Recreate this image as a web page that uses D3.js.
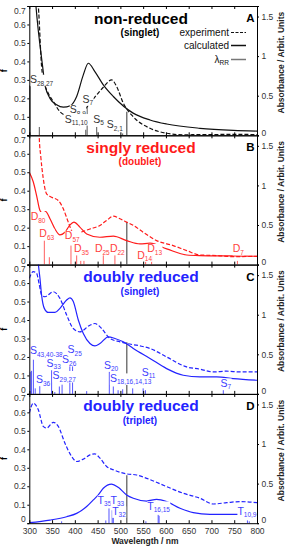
<!DOCTYPE html>
<html>
<head>
<meta charset="utf-8">
<script src="https://cdn.jsdelivr.net/npm/d3@7"></script>
<style>
  body { margin: 0; background: #fff; }
  svg { display: block; font-family: "Liberation Sans", Arial, sans-serif; }
</style>
</head>
<body>
<svg id="chart" width="287" height="550"></svg>
<script>

// ---- data (curves read against the f axis, wavelength in nm) ----
const wavelengthTicks = [300, 350, 400, 450, 500, 550, 600, 650, 700, 750, 800];
const fTicks = [0, 0.1, 0.2, 0.3, 0.4, 0.5, 0.6, 0.7];
const absTicks = [0, 0.5, 1, 1.5];
const lambdaRR = 514;

const titles = ["non-reduced", "singly reduced", "doubly reduced", "doubly reduced"];
const subtitles = ["(singlet)", "(doublet)", "(singlet)", "(triplet)"];
const letters = ["A", "B", "C", "D"];

const expA = [[318,0.75],[319.8,0.70],[327,0.372],[333,0.282],[341.7,0.228],[352.7,0.183],[367.3,0.128],[382,0.105],[396.6,0.098],[411,0.11],[427.4,0.155],[448,0.219],[462.5,0.26],[480.8,0.30],[491.8,0.264],[506.4,0.174],[528,0.101],[565,0.038],[601.6,0.011],[638,0.003],[700,0.004],[750,0.005],[800,0.004]];
const calcA = [[313,0.75],[314.6,0.70],[329.3,0.372],[334.4,0.273],[345.4,0.2],[360,0.165],[374.7,0.152],[390,0.16],[404,0.21],[418.6,0.327],[429.6,0.39],[444,0.345],[462.5,0.273],[484.5,0.21],[528,0.12],[565,0.083],[601.6,0.061],[674.8,0.038],[748,0.027],[800,0.023]];
const sticksA = [[300.8,0.27],[301.8,0.27],[322,0.045],[424,0.03],[427,0.155],[448,0.045],[505,0.01]];
const labelsA = [["S","28,27",301.3,0.282],["S","8,9",389,0.119],["S","7",417,0.176],["S","11,10",378,0.069],["S","5",440.5,0.069],["S","2,1",470,0.038]];
const rrA = 0.128;

const expB = [[321,0.75],[322,0.68],[325,0.59],[330.7,0.465],[338,0.383],[349,0.365],[363.7,0.347],[374.7,0.302],[385.6,0.23],[396.6,0.172],[411,0.175],[433,0.193],[455,0.212],[469.8,0.239],[484.5,0.262],[499,0.248],[513.7,0.23],[528.4,0.212],[550.3,0.175],[579.6,0.13],[616,0.103],[645.5,0.076],[674.8,0.052],[711.4,0.049],[748,0.043],[800,0.045]];
const calcB = [[300,0.50],[308.8,0.447],[316,0.374],[323.4,0.293],[330.7,0.275],[336,0.287],[345.4,0.248],[356.4,0.193],[367.3,0.161],[378.3,0.175],[389.3,0.215],[398,0.23],[411,0.203],[426,0.166],[455,0.148],[484.5,0.154],[513.7,0.13],[543,0.112],[565,0.116],[601.6,0.085],[645.5,0.052],[674.8,0.049],[748,0.047],[800,0.045]];
const sticksB = [[333,0.13],[344,0.04],[391.5,0.103],[404,0.06],[413,0.02],[420,0.02],[462.5,0.052],[488,0.058],[555.5,0.02],[568.6,0.06],[757,0.02]];
const labelsB = [["D","80",303,0.239],["D","63",322,0.148],["D","57",378,0.137],["D","35",398,0.066],["D","25",444,0.066],["D","22",477,0.066],["D","14",537,0.031],["D","13",559,0.066],["D","7",746.5,0.066]];
const rrB = 0.23;

const expC = [[300,0.626],[308.8,0.662],[316,0.653],[322,0.59],[327,0.535],[334.4,0.526],[352.7,0.553],[367.3,0.517],[382,0.427],[396.6,0.354],[411,0.336],[433.2,0.372],[444,0.381],[458.8,0.354],[477,0.3],[499,0.282],[513.7,0.273],[543,0.26],[565,0.246],[601.6,0.2],[645.5,0.146],[674.8,0.134],[704,0.119],[733.3,0.123],[762.6,0.119],[800,0.119]];
const calcC = [[318.5,0.75],[319.8,0.707],[323.4,0.626],[327,0.535],[333,0.463],[341.7,0.441],[356.4,0.441],[367.3,0.463],[382,0.508],[389.3,0.52],[396.6,0.5],[407.6,0.4],[418.6,0.327],[433.2,0.273],[444.2,0.26],[455.2,0.273],[473.5,0.309],[488,0.3],[506.4,0.282],[528.4,0.246],[565,0.192],[601.6,0.137],[638,0.101],[674.8,0.092],[711.4,0.092],[748,0.083],[800,0.074]];
const sticksC = [[302,0.12],[305,0.125],[309,0.185],[313,0.03],[323,0.047],[349,0.128],[356,0.01],[366,0.04],[372,0.05],[389,0.165],[395,0.21],[426,0.015],[475.7,0.12],[484.5,0.04],[495,0.02],[505,0.025],[527,0.03],[550,0.03],[555,0.02],[726,0.02]];
const labelsC = [["S","43,40-38",301.5,0.215],["S","36",314.6,0.058],["S","33",338,0.146],["S","29,27",351,0.078],["S","26",372,0.165],["S","25",384,0.219],["S","20",464,0.137],["S","18,16,14,13",477,0.065],["S","11",546.7,0.098],["S","7",720,0.038]];
const rrC = 0.28;

const expD = [[300,0.596],[308.8,0.65],[319.8,0.614],[330.7,0.524],[338,0.515],[352.7,0.546],[363.7,0.524],[378.3,0.433],[393,0.361],[404,0.334],[418.6,0.347],[433.2,0.37],[444,0.375],[455.2,0.352],[469.8,0.307],[484.5,0.289],[513.7,0.267],[535.7,0.261],[557.7,0.243],[601.6,0.198],[638,0.162],[674.8,0.135],[704,0.104],[733.3,0.111],[762.6,0.117],[800,0.111]];
const calcD = [[300,0.003],[345.4,0.017],[382,0.035],[404,0.053],[426,0.09],[440.6,0.126],[451.5,0.153],[462.5,0.189],[480.8,0.212],[495.4,0.194],[513.7,0.153],[528.4,0.135],[557.7,0.12],[579.6,0.129],[601.6,0.117],[630.9,0.081],[660,0.057],[696.7,0.048],[760,0.048],[800,0.047]];
const sticksD = [[371,0.01],[468,0.015],[475,0.08],[482,0.07],[484.5,0.045],[556,0.01],[583,0.045],[585,0.04],[779,0.015],[783,0.01]];
const labelsD = [["T","35",450,0.104],["T","33",478.5,0.104],["T","32",482,0.045],["T","16,15",559,0.072],["T","10,9",757,0.045]];
const rrD = 0.26;

const panels = [
  {exp: expA, calc: calcA, sticks: sticksA, labels: labelsA, rr: rrA, color: "#111", stick: "#555", text: "#333", title: "#000"},
  {exp: expB, calc: calcB, sticks: sticksB, labels: labelsB, rr: rrB, color: "#ff1a1a", stick: "#ff6060", text: "#ff4040", title: "#ff1a1a"},
  {exp: expC, calc: calcC, sticks: sticksC, labels: labelsC, rr: rrC, color: "#2323ff", stick: "#5555ff", text: "#3d3dff", title: "#2323ff"},
  {exp: expD, calc: calcD, sticks: sticksD, labels: labelsD, rr: rrD, color: "#2323ff", stick: "#5555ff", text: "#3d3dff", title: "#2323ff"}
];

// ---- layout ----
const svg = d3.select("#chart");
const left = 29.3, right = 257, top0 = 6, ph = 129.3;
const x = d3.scaleLinear().domain([300, 800]).range([left, right]);

svg.append("rect").attr("width", 287).attr("height", 550).attr("fill", "#fff");

panels.forEach((p, i) => {
  let y0 = top0 + i * ph, y1 = y0 + ph;
  let yF = d3.scaleLinear().domain([0, 0.7]).range([y1, y0]);
  let yA = d3.scaleLinear().domain([0, 1.633]).range([y1, y0]);

  let clipId = "clip" + i;
  svg.append("clipPath").attr("id", clipId)
    .append("rect").attr("x", left).attr("y", y0).attr("width", right - left).attr("height", ph);

  let g = svg.append("g");
  let plot = g.append("g").attr("clip-path", "url(#" + clipId + ")");

  plot.selectAll(".stick").data(p.sticks).enter().append("line")
    .attr("class", "stick")
    .attr("x1", d => x(d[0])).attr("x2", d => x(d[0]))
    .attr("y1", yF(0)).attr("y2", d => yF(d[1]))
    .attr("stroke", p.stick).attr("stroke-width", 1);

  plot.append("line")
    .attr("x1", x(lambdaRR)).attr("x2", x(lambdaRR))
    .attr("y1", yF(0)).attr("y2", yF(p.rr))
    .attr("stroke", "#777").attr("stroke-width", 1.5);

  let line = d3.line().x(d => x(d[0])).y(d => yF(d[1])).curve(d3.curveMonotoneX);

  plot.append("path").datum(p.exp).attr("d", line)
    .attr("fill", "none").attr("stroke", p.color).attr("stroke-width", 1.2)
    .attr("stroke-dasharray", "4,2");
  plot.append("path").datum(p.calc).attr("d", line)
    .attr("fill", "none").attr("stroke", p.color).attr("stroke-width", 1.2);

  // transition labels, white box behind
  p.labels.forEach(l => {
    let lg = plot.append("g");
    let t = lg.append("text")
      .attr("x", x(l[2])).attr("y", yF(l[3]))
      .attr("fill", p.text).attr("font-size", 10.5);
    t.append("tspan").text(l[0]);
    t.append("tspan").attr("font-size", 6.5).attr("dy", 2.5).text(l[1]);
    let bb = t.node().getBBox();
    lg.insert("rect", "text")
      .attr("x", bb.x).attr("y", bb.y + 1.5)
      .attr("width", bb.width).attr("height", bb.height - 2)
      .attr("fill", "#fff");
  });

  // titles
  g.append("text").attr("x", 141).attr("y", y0 + 17.5)
    .attr("text-anchor", "middle").attr("font-weight", "bold").attr("font-size", 15.5)
    .attr("fill", p.title).text(titles[i]);
  g.append("text").attr("x", 140).attr("y", y0 + 30)
    .attr("text-anchor", "middle").attr("font-weight", "bold").attr("font-size", 10)
    .attr("fill", p.title).text(subtitles[i]);
  g.append("text").attr("x", 254.5).attr("y", y0 + 16)
    .attr("text-anchor", "end").attr("font-weight", "bold").attr("font-size", 11.5)
    .text(letters[i]);

  // axes
  let fAxis = g.append("g").attr("transform", "translate(" + left + ",0)")
    .call(d3.axisLeft(yF).tickValues(fTicks).tickSize(2).tickPadding(1.5).tickFormat(d3.format("~g")));
  fAxis.selectAll("text")
    .attr("y", d => d === 0.7 ? 4.3 : d === 0 ? -4.3 : 0);

  let aAxis = g.append("g").attr("transform", "translate(" + right + ",0)")
    .call(d3.axisRight(yA).tickValues(absTicks).tickSize(2).tickPadding(2.5).tickFormat(d3.format("~g")));
  aAxis.selectAll("text").attr("y", d => d === 0 ? -3 : 0);

  let bAxis = g.append("g").attr("transform", "translate(0," + y1 + ")")
    .call(d3.axisBottom(x).tickValues(wavelengthTicks).tickSizeInner(-3).tickSizeOuter(0).tickPadding(4.5));
  if (i < 3) bAxis.selectAll("text").remove();
  g.append("g").attr("transform", "translate(0," + y0 + ")")
    .call(d3.axisTop(x).tickValues(wavelengthTicks).tickSizeInner(-3).tickSizeOuter(0))
    .selectAll("text").remove();

  [fAxis, aAxis, bAxis].forEach(a => a.selectAll("text")
    .attr("font-family", "Liberation Sans, Arial, sans-serif").attr("font-size", 8.5).attr("fill", "#333"));

  g.append("text")
    .attr("transform", "translate(7," + (y0 + ph / 2) + ")rotate(-90)")
    .attr("text-anchor", "middle").attr("font-weight", "bold").attr("font-size", 9)
    .text("f");
  g.append("text")
    .attr("transform", "translate(283.5," + (y0 + ph / 2 - 8) + ")rotate(-90)")
    .attr("text-anchor", "middle").attr("font-weight", "bold").attr("font-size", 8.5)
    .attr("fill", "#222").text("Absorbance / Arbit. Units");
});

// legend in panel A
const legendNames = ["experiment", "calculated", "λ"];
const legendStyle = [{c: "#111", dash: "3,1.5", w: 1.2}, {c: "#111", dash: null, w: 1.5}, {c: "#777", dash: null, w: 1.5}];
const legendY = [36, 49, 63];
legendNames.forEach((n, k) => {
  let t = svg.append("text").attr("x", 229).attr("y", legendY[k])
    .attr("text-anchor", "end").attr("font-size", 10).attr("fill", "#111");
  t.append("tspan").text(n);
  if (k === 2) t.append("tspan").attr("font-size", 6.5).attr("dy", 2).text("RR");
  svg.append("line").attr("x1", 231).attr("x2", 246)
    .attr("y1", legendY[k] - 3.5).attr("y2", legendY[k] - 3.5)
    .attr("stroke", legendStyle[k].c).attr("stroke-width", legendStyle[k].w)
    .attr("stroke-dasharray", legendStyle[k].dash);
});

svg.append("text").attr("x", 145).attr("y", 544)
  .attr("text-anchor", "middle").attr("font-weight", "bold").attr("font-size", 8.5)
  .attr("fill", "#222").text("Wavelength / nm");

</script>
</body>
</html>
